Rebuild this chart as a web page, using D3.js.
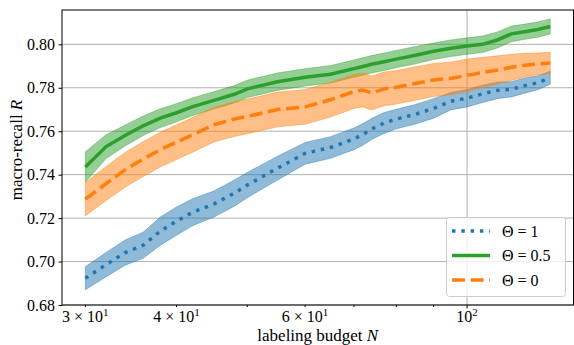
<!DOCTYPE html>
<html>
<head>
<meta charset="utf-8">
<script src="https://cdnjs.cloudflare.com/ajax/libs/d3/7.8.5/d3.min.js"></script>
<style>
body { margin: 0; background: #fff; }
svg text { font-family: "Liberation Serif", "Times New Roman", Times, "DejaVu Serif", serif; fill: #000; }
</style>
</head>
<body>
<div id="chart"></div>
<script>
// labeling budget N (x values)
var budget = [30, 32, 34, 36, 38, 40, 42, 45, 48, 50, 55, 60, 65, 70, 72, 74, 77, 80, 85, 90, 95, 100, 105, 110, 115, 120, 125, 130];

// Theta = 1
var recallTheta1 = [0.6923, 0.6985, 0.7041, 0.7075, 0.7140, 0.7186, 0.7226, 0.7265, 0.7315, 0.7352, 0.7430, 0.7498, 0.7525, 0.7565, 0.7585, 0.7610, 0.7638, 0.7656, 0.7678, 0.7705, 0.7738, 0.7752, 0.7772, 0.7788, 0.7793, 0.7810, 0.7823, 0.7846];
var spreadTheta1 = [0.0053, 0.0056, 0.0058, 0.0060, 0.0065, 0.0065, 0.0062, 0.0060, 0.0060, 0.0058, 0.0055, 0.0050, 0.0050, 0.0050, 0.0050, 0.0048, 0.0048, 0.0045, 0.0045, 0.0045, 0.0040, 0.0040, 0.0040, 0.0038, 0.0035, 0.0035, 0.0032, 0.0030];

// Theta = 0.5
var recallTheta05 = [0.7435, 0.7528, 0.7580, 0.7625, 0.7660, 0.7685, 0.7712, 0.7742, 0.7770, 0.7795, 0.7828, 0.7848, 0.7862, 0.7888, 0.7898, 0.7908, 0.7920, 0.7932, 0.7950, 0.7968, 0.7982, 0.7992, 0.8000, 0.8020, 0.8048, 0.8058, 0.8068, 0.8082];
var spreadTheta05 = [0.0070, 0.0055, 0.0048, 0.0045, 0.0043, 0.0042, 0.0041, 0.0040, 0.0040, 0.0040, 0.0040, 0.0040, 0.0040, 0.0040, 0.0040, 0.0040, 0.0040, 0.0040, 0.0040, 0.0038, 0.0038, 0.0038, 0.0038, 0.0037, 0.0036, 0.0035, 0.0035, 0.0035];

// Theta = 0
var recallTheta0 = [0.7287, 0.7358, 0.7422, 0.7472, 0.7515, 0.7550, 0.7582, 0.7630, 0.7656, 0.7668, 0.7700, 0.7712, 0.7745, 0.7783, 0.7790, 0.7776, 0.7795, 0.7802, 0.7820, 0.7836, 0.7843, 0.7857, 0.7870, 0.7882, 0.7894, 0.7904, 0.7910, 0.7914];
var spreadTheta0 = [0.0077, 0.0078, 0.0080, 0.0080, 0.0080, 0.0080, 0.0080, 0.0080, 0.0080, 0.0080, 0.0080, 0.0080, 0.0080, 0.0078, 0.0078, 0.0078, 0.0078, 0.0077, 0.0077, 0.0076, 0.0075, 0.0075, 0.0070, 0.0065, 0.0060, 0.0055, 0.0050, 0.0050];

var seriesLabels = ["1", "0.5", "0"];

// ticks
var yTicks = [0.68, 0.70, 0.72, 0.74, 0.76, 0.78, 0.80];
var xMajorTicks = [100];
var xMinorTicks = [30, 40, 50, 60, 70, 80, 90];
var xLabelValues = [30, 40, 60, 100];
var xLabelMantissa = ["3", "4", "6", ""];
var xLabelExponent = ["1", "1", "1", "2"];

var serif = "'Liberation Serif', 'Times New Roman', Times, 'DejaVu Serif', serif";

function drawChart() {
    var margin = {top: 10, left: 62, right: 0.5, bottom: 40},
        width = 574 - margin.left - margin.right,
        height = 345 - margin.top - margin.bottom;

    var svg = d3.select("#chart").append("svg")
        .attr("width", 574)
        .attr("height", 345)
        .append("g")
        .attr("font-family", serif)
        .attr("transform", "translate(" + margin.left + "," + margin.top + ")");

    var x = d3.scaleLog().domain([27.87, 139.9]).range([0, width]);
    var y = d3.scaleLinear().domain([0.68, 0.8158]).range([height, 0]);

    // grid
    svg.selectAll(".hgrid").data(yTicks).enter().append("line")
        .attr("x1", 0).attr("x2", width)
        .attr("y1", function(d) { return y(d); })
        .attr("y2", function(d) { return y(d); })
        .style("stroke", "#b0b0b0").style("stroke-width", 1);
    svg.selectAll(".vgrid").data(xMajorTicks).enter().append("line")
        .attr("y1", 0).attr("y2", height)
        .attr("x1", function(d) { return x(d); })
        .attr("x2", function(d) { return x(d); })
        .style("stroke", "#b0b0b0").style("stroke-width", 1);

    var series = [
        {mean: recallTheta1, spread: spreadTheta1, color: "#1f77b4", dash: "3.5,5.8"},
        {mean: recallTheta05, spread: spreadTheta05, color: "#2ca02c", dash: null},
        {mean: recallTheta0, spread: spreadTheta0, color: "#ff7f0e", dash: "13,5.6"}
    ];

    series.forEach(function(s) {
        var area = d3.area()
            .x(function(d, i) { return x(budget[i]); })
            .y0(function(d, i) { return y(s.mean[i] - s.spread[i]); })
            .y1(function(d, i) { return y(s.mean[i] + s.spread[i]); });
        var line = d3.line()
            .x(function(d, i) { return x(budget[i]); })
            .y(function(d, i) { return y(s.mean[i]); });

        svg.append("path").datum(s.mean)
            .attr("d", area)
            .style("fill", s.color).style("fill-opacity", 0.5)
            .style("stroke", s.color).style("stroke-opacity", 0.5).style("stroke-width", 0.8);
        svg.append("path").datum(s.mean)
            .attr("d", line)
            .style("fill", "none")
            .style("stroke", s.color)
            .style("stroke-width", 3.5)
            .style("stroke-dasharray", s.dash);
    });

    // frame
    svg.append("rect")
        .attr("x", 0).attr("y", 0)
        .attr("width", width).attr("height", height)
        .style("fill", "none").style("stroke", "#000").style("stroke-width", 1);

    // y axis
    var yAxis = svg.append("g")
        .call(d3.axisLeft(y).tickValues(yTicks).tickFormat(d3.format(".2f")).tickSize(3.5).tickPadding(3.5));
    yAxis.attr("font-family", serif).attr("font-size", 16);
    yAxis.select(".domain").remove();
    yAxis.selectAll("text").style("font-size", "16px").style("font-family", serif);
    yAxis.selectAll("line").style("stroke", "#000");

    // x ticks
    svg.selectAll(".xmajor").data(xMajorTicks).enter().append("line")
        .attr("x1", function(d) { return x(d); }).attr("x2", function(d) { return x(d); })
        .attr("y1", height).attr("y2", height + 3.5)
        .style("stroke", "#000");
    svg.selectAll(".xminor").data(xMinorTicks).enter().append("line")
        .attr("x1", function(d) { return x(d); }).attr("x2", function(d) { return x(d); })
        .attr("y1", height).attr("y2", height + 2)
        .style("stroke", "#000");

    var xl = svg.selectAll(".xlab").data(xLabelValues).enter().append("text")
        .attr("x", function(d) { return x(d); })
        .attr("y", height + 17)
        .attr("text-anchor", "middle")
        .style("font-family", serif)
        .style("font-size", "16px");
    xl.append("tspan").text(function(d, i) { return xLabelMantissa[i] ? xLabelMantissa[i] + " \u00d7 10" : "10"; });
    xl.append("tspan").attr("dy", -6).style("font-size", "11px")
        .text(function(d, i) { return xLabelExponent[i]; });

    // axis labels
    var xt = svg.append("text")
        .attr("x", width / 2).attr("y", height + 36)
        .attr("text-anchor", "middle")
        .style("font-family", serif)
        .style("font-size", "17px");
    xt.append("tspan").text("labeling budget ");
    xt.append("tspan").style("font-style", "italic").text("N");

    var yt = svg.append("text")
        .attr("transform", "translate(" + (22 - margin.left) + "," + (150 - margin.top) + ") rotate(-90)")
        .attr("text-anchor", "middle")
        .style("font-family", serif)
        .style("font-size", "17px");
    yt.append("tspan").text("macro-recall ");
    yt.append("tspan").style("font-style", "italic").text("R");

    // legend
    var lg = svg.append("g").attr("transform", "translate(" + (446 - margin.left) + "," + (217 - margin.top) + ")");
    lg.append("rect")
        .attr("x", 0.5).attr("y", 0.5).attr("width", 119).attr("height", 79)
        .attr("rx", 3)
        .style("fill", "#fff").style("fill-opacity", 0.8)
        .style("stroke", "#cccccc").style("stroke-width", 1);
    series.forEach(function(s, i) {
        var cy = 14 + i * 24.5;
        lg.append("line")
            .attr("x1", 6).attr("x2", 44)
            .attr("y1", cy).attr("y2", cy)
            .style("stroke", s.color).style("stroke-width", 3.5)
            .style("stroke-dasharray", s.dash);
        lg.append("text")
            .attr("x", 56).attr("y", cy + 5.5)
            .style("font-family", serif)
            .style("font-size", "16px")
            .text("\u0398 = " + seriesLabels[i]);
    });
}

drawChart();
</script>
</body>
</html>
